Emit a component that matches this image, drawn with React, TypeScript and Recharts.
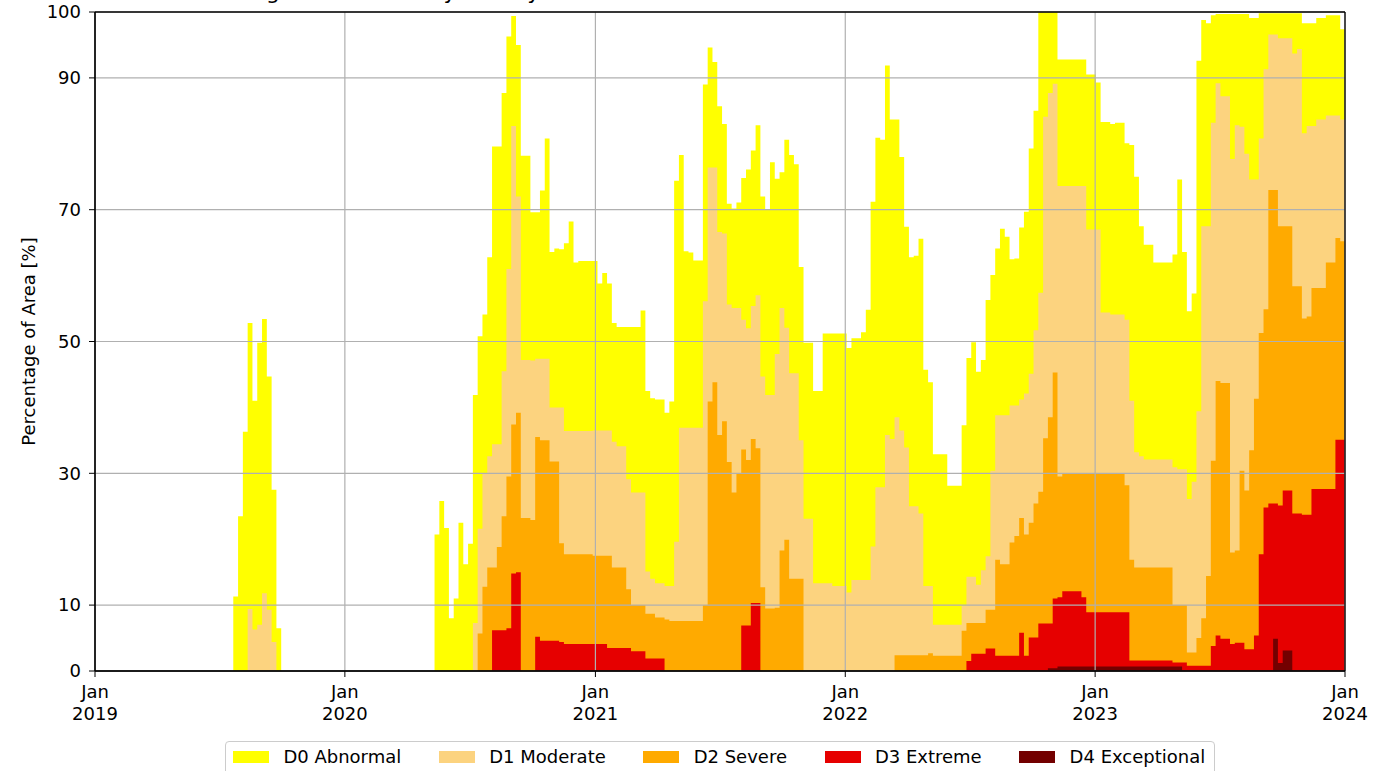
import React from "react"
import {
  Area,
  ComposedChart,
  Customized,
  ReferenceLine,
  XAxis,
  YAxis,
} from "recharts"

// weekly drought monitor values (% of area), first week = 2019-01-01
// every category is cumulative: D0 includes D1..D4, and so on
const d0 = [
  0, 0, 0, 0, 0, 0, 0, 0, 0, 0,
  0, 0, 0, 0, 0, 0, 0, 0, 0, 0,
  0, 0, 0, 0, 0, 0, 0, 0, 0, 11.3,
  23.5, 36.3, 52.8, 41, 49.8, 53.4, 44.7, 27.5, 6.5, 0,
  0, 0, 0, 0, 0, 0, 0, 0, 0, 0,
  0, 0, 0, 0, 0, 0, 0, 0, 0, 0,
  0, 0, 0, 0, 0, 0, 0, 0, 0, 0,
  0, 20.7, 25.8, 21.7, 8, 11, 22.5, 16.2, 19.3, 41.9,
  50.8, 54.1, 62.8, 79.6, 79.6, 87.7, 96.3, 99.4, 95, 78.2,
  78.2, 69.6, 69.6, 72.9, 80.8, 63.6, 64.1, 64, 64.9, 68.2,
  62, 62.2, 62.2, 62.2, 62.2, 58.8, 60.4, 58.8, 52.8, 52.2,
  52.2, 52.2, 52.2, 52.2, 54.7, 42.5, 41.4, 41.2, 41.2, 39.2,
  40.9, 74.4, 78.3, 63.7, 63.5, 62.3, 62.3, 89, 94.6, 92.4,
  85.7, 83, 70.9, 70.2, 71.1, 74.8, 76.1, 79, 82.8, 72,
  70.1, 77.2, 74.7, 75.7, 80.6, 78.3, 76.9, 61.3, 49.8, 49.8,
  42.5, 42.5, 51.2, 51.2, 51.2, 51.2, 51.2, 49, 50.5, 50.5,
  51.4, 54.8, 71.2, 80.9, 80.6, 91.9, 83.7, 83.7, 78, 67.4,
  62.8, 63, 65.6, 45.7, 43.8, 32.9, 32.9, 32.9, 28.1, 28.1,
  28.1, 37.3, 47.5, 49.9, 45.4, 47.2, 56.3, 60.1, 64.1, 67.1,
  65.9, 62.5, 62.6, 67.3, 69.7, 79.3, 85, 100, 100, 100,
  100, 92.8, 92.8, 92.8, 92.8, 92.8, 92.8, 90.5, 90.5, 89.3,
  83.3, 83.3, 83, 83.2, 83.2, 80.1, 79.8, 75, 67.5, 64.7,
  64.7, 62, 62, 62, 62, 63.2, 74.6, 63.6, 54.6, 57.3,
  92.6, 98.8, 98.3, 99.5, 99.7, 99.7, 99.7, 99.7, 99.7, 99.7,
  99.7, 99.1, 99.1, 99.8, 99.8, 99.8, 99.8, 99.8, 99.8, 99.8,
  99.8, 99.8, 98.3, 98.3, 98.3, 99.1, 99.1, 99.5, 99.5, 99.5,
  97.4,
]

const d1 = [
  0, 0, 0, 0, 0, 0, 0, 0, 0, 0,
  0, 0, 0, 0, 0, 0, 0, 0, 0, 0,
  0, 0, 0, 0, 0, 0, 0, 0, 0, 0,
  0, 0, 9.4, 6.3, 7, 11.8, 9.3, 4.4, 0, 0,
  0, 0, 0, 0, 0, 0, 0, 0, 0, 0,
  0, 0, 0, 0, 0, 0, 0, 0, 0, 0,
  0, 0, 0, 0, 0, 0, 0, 0, 0, 0,
  0, 0, 0, 0, 0, 0, 0, 0, 0, 7.3,
  21.6, 30, 32.6, 34.4, 34.4, 45.5, 61, 82.7, 72, 47.2,
  47.2, 47.1, 47.4, 47.4, 47.4, 40, 40, 40, 36.4, 36.4,
  36.4, 36.4, 36.4, 36.4, 36.5, 36.5, 36.5, 36.5, 34.8, 34.1,
  34.1, 29.1, 27.1, 27.1, 27.1, 15.1, 14, 13.3, 13.3, 12.9,
  12.9, 19.6, 36.9, 36.9, 36.9, 36.9, 36.9, 56.1, 76.4, 76.4,
  66.6, 66.4, 55.6, 55.1, 55.1, 53.3, 52, 55.4, 57, 44.7,
  41.9, 41.9, 48.1, 55.1, 52.1, 45.2, 45.2, 35, 23.1, 23.1,
  13.3, 13.3, 13.3, 13.3, 12.9, 12.9, 12.9, 11.9, 13.8, 13.8,
  13.8, 13.8, 18.9, 27.9, 27.9, 35.8, 35.2, 38.5, 36.5, 33.9,
  25, 25, 23.9, 12.9, 12.9, 7, 7, 7, 7, 7,
  7, 9.9, 14.3, 14.3, 13.1, 15.3, 17.4, 30.4, 38.8, 38.8,
  38.8, 40.3, 40.3, 41.2, 42.1, 45.1, 51.7, 57.4, 84.1, 87.7,
  89.1, 73.6, 73.6, 73.6, 73.6, 73.6, 73.6, 67, 67, 67,
  54.4, 54.4, 54.1, 54.1, 54.1, 53.3, 41, 33.2, 32.6, 32.1,
  32.1, 32.1, 32.1, 32.1, 32.1, 30.9, 30.6, 30.6, 26.1, 28.7,
  39.4, 67.5, 67.5, 83.2, 89.2, 87.2, 87.2, 77.7, 82.8, 82.6,
  78.5, 74.6, 74.6, 80.8, 91.3, 96.6, 96.6, 96, 96, 96,
  93.7, 94.4, 81.6, 82.7, 82.7, 83.7, 83.7, 84.3, 84.3, 84.3,
  83.7,
]

const d2 = [
  0, 0, 0, 0, 0, 0, 0, 0, 0, 0,
  0, 0, 0, 0, 0, 0, 0, 0, 0, 0,
  0, 0, 0, 0, 0, 0, 0, 0, 0, 0,
  0, 0, 0, 0, 0, 0, 0, 0, 0, 0,
  0, 0, 0, 0, 0, 0, 0, 0, 0, 0,
  0, 0, 0, 0, 0, 0, 0, 0, 0, 0,
  0, 0, 0, 0, 0, 0, 0, 0, 0, 0,
  0, 0, 0, 0, 0, 0, 0, 0, 0, 0,
  5.7, 12.8, 15.7, 15.7, 18.8, 23.5, 29.5, 37.4, 39.2, 23.2,
  23.2, 22.9, 35.5, 35, 35, 31.8, 31.8, 19.4, 17.7, 17.7,
  17.7, 17.7, 17.7, 17.7, 17.5, 17.5, 17.5, 17.5, 15.7, 15.7,
  15.7, 12.4, 10, 10, 10, 8.7, 8.7, 8.1, 8.1, 7.8,
  7.6, 7.6, 7.6, 7.6, 7.6, 7.6, 7.6, 10, 40.9, 43.8,
  35.8, 37.9, 31.7, 27.1, 29.9, 33.6, 32, 35.2, 33.8, 12.7,
  9.5, 9.5, 9.6, 18.3, 19.9, 14, 14, 14, 0, 0,
  0, 0, 0, 0, 0, 0, 0, 0, 0, 0,
  0, 0, 0, 0, 0, 0, 0, 2.4, 2.4, 2.4,
  2.4, 2.4, 2.4, 2.4, 2.7, 2.3, 2.3, 2.3, 2.3, 2.3,
  2.3, 6.1, 7.3, 7.3, 7.3, 7.3, 9.3, 9.3, 16.9, 16.2,
  16.2, 19.5, 20.5, 23.2, 20.7, 22.5, 25.4, 27.2, 35.3, 38.5,
  45.3, 29.5, 29.9, 29.9, 29.9, 29.9, 29.9, 29.9, 29.9, 29.9,
  29.9, 29.9, 29.9, 29.9, 29.9, 28.2, 16.9, 15.7, 15.7, 15.7,
  15.7, 15.7, 15.7, 15.7, 15.7, 10, 10, 10, 2.8, 2.8,
  5, 8, 14.4, 31.9, 44, 43.7, 43.7, 18, 18.3, 30.4,
  27.4, 33.5, 41.3, 51.3, 54.9, 73, 73, 67.5, 67.5, 67.5,
  58.4, 58.4, 53.5, 53.8, 58.1, 58.1, 58.1, 62, 62, 65.7,
  65.2,
]

const d3 = [
  0, 0, 0, 0, 0, 0, 0, 0, 0, 0,
  0, 0, 0, 0, 0, 0, 0, 0, 0, 0,
  0, 0, 0, 0, 0, 0, 0, 0, 0, 0,
  0, 0, 0, 0, 0, 0, 0, 0, 0, 0,
  0, 0, 0, 0, 0, 0, 0, 0, 0, 0,
  0, 0, 0, 0, 0, 0, 0, 0, 0, 0,
  0, 0, 0, 0, 0, 0, 0, 0, 0, 0,
  0, 0, 0, 0, 0, 0, 0, 0, 0, 0,
  0, 0, 0, 6.2, 6.2, 6.2, 6.5, 14.8, 15, 0,
  0, 0, 5.2, 4.6, 4.6, 4.6, 4.6, 4.4, 4.1, 4.1,
  4.1, 4.1, 4.1, 4.1, 4.1, 4.1, 4.1, 3.5, 3.5, 3.5,
  3.5, 3.5, 3, 3, 3, 1.9, 1.9, 1.9, 1.9, 0,
  0, 0, 0, 0, 0, 0, 0, 0, 0, 0,
  0, 0, 0, 0, 0, 6.9, 6.9, 10.3, 10.3, 0,
  0, 0, 0, 0, 0, 0, 0, 0, 0, 0,
  0, 0, 0, 0, 0, 0, 0, 0, 0, 0,
  0, 0, 0, 0, 0, 0, 0, 0, 0, 0,
  0, 0, 0, 0, 0, 0, 0, 0, 0, 0,
  0, 0, 1.5, 2.6, 2.6, 2.6, 3.4, 3.4, 2.3, 2.3,
  2.3, 2.3, 2.3, 5.8, 2.3, 5.1, 5.1, 7.2, 7.2, 7.2,
  11, 11.2, 12.1, 12.1, 12.1, 12.1, 11.2, 8.9, 8.9, 8.9,
  8.9, 8.9, 8.9, 8.9, 8.9, 8.9, 1.6, 1.6, 1.6, 1.6,
  1.6, 1.6, 1.6, 1.6, 1.6, 1.3, 1.3, 1.3, 0.8, 0.8,
  0.8, 0.8, 0.8, 3.8, 5.4, 4.9, 4.9, 4.1, 4.3, 4.3,
  3.3, 3.3, 5.4, 17.7, 24.8, 25.4, 25.4, 25.1, 27.4, 27.4,
  23.9, 23.9, 23.7, 23.7, 27.6, 27.6, 27.6, 27.6, 27.6, 35.1,
  35.1,
]

const d4 = [
  0, 0, 0, 0, 0, 0, 0, 0, 0, 0,
  0, 0, 0, 0, 0, 0, 0, 0, 0, 0,
  0, 0, 0, 0, 0, 0, 0, 0, 0, 0,
  0, 0, 0, 0, 0, 0, 0, 0, 0, 0,
  0, 0, 0, 0, 0, 0, 0, 0, 0, 0,
  0, 0, 0, 0, 0, 0, 0, 0, 0, 0,
  0, 0, 0, 0, 0, 0, 0, 0, 0, 0,
  0, 0, 0, 0, 0, 0, 0, 0, 0, 0,
  0, 0, 0, 0, 0, 0, 0, 0, 0, 0,
  0, 0, 0, 0, 0, 0, 0, 0, 0, 0,
  0, 0, 0, 0, 0, 0, 0, 0, 0, 0,
  0, 0, 0, 0, 0, 0, 0, 0, 0, 0,
  0, 0, 0, 0, 0, 0, 0, 0, 0, 0,
  0, 0, 0, 0, 0, 0, 0, 0, 0, 0,
  0, 0, 0, 0, 0, 0, 0, 0, 0, 0,
  0, 0, 0, 0, 0, 0, 0, 0, 0, 0,
  0, 0, 0, 0, 0, 0, 0, 0, 0, 0,
  0, 0, 0, 0, 0, 0, 0, 0, 0, 0,
  0, 0, 0, 0, 0, 0, 0, 0, 0, 0,
  0, 0, 0, 0, 0, 0, 0, 0, 0, 0.4,
  0.4, 0.7, 0.7, 0.7, 0.7, 0.7, 0.7, 0.7, 0.7, 0.7,
  0.7, 0.7, 0.7, 0.7, 0.7, 0.7, 0.7, 0.7, 0.7, 0.7,
  0.7, 0.7, 0.7, 0.7, 0.7, 0.7, 0.7, 0, 0, 0,
  0, 0, 0, 0, 0, 0, 0, 0, 0, 0,
  0, 0, 0, 0, 0, 0, 4.9, 1.2, 3.1, 3.1,
  0, 0, 0, 0, 0, 0, 0, 0, 0, 0,
  0,
]

// days since 2019-01-01
const yearTicks = [0, 365, 731, 1096, 1461, 1826]
const yearLabels = ["2019", "2020", "2021", "2022", "2023", "2024"]
const pctTicks = [0, 10, 30, 50, 70, 90, 100]

const series = [
  { key: "d0", name: "D0 Abnormal", color: "#FFFF00" },
  { key: "d1", name: "D1 Moderate", color: "#FCD37F" },
  { key: "d2", name: "D2 Severe", color: "#FFAA00" },
  { key: "d3", name: "D3 Extreme", color: "#E60000" },
  { key: "d4", name: "D4 Exceptional", color: "#730000" },
]

const data = d0.map((v, i) => ({
  day: i * 7 - 1,
  d0: v,
  d1: d1[i],
  d2: d2[i],
  d3: d3[i],
  d4: d4[i],
}))
// close the last weekly step at the right edge
data.push({ ...data[data.length - 1], day: 1826 })

const FONT = "DejaVu Sans, sans-serif"

const YearTick = (props: any) => {
  const { x, y, index } = props
  return (
    <text x={x} y={y} textAnchor="middle" fill="#000" fontSize={18}>
      <tspan x={x} dy={19}>Jan</tspan>
      <tspan x={x} dy={21.6}>{yearLabels[index]}</tspan>
    </text>
  )
}

const YLabel = (props: any) => {
  const vb = props.viewBox || { x: 0, y: 12, width: 95, height: 659 }
  const cx = vb.x + 28
  const cy = vb.y + vb.height / 2
  return (
    <text
      x={cx}
      y={cy}
      transform={`rotate(-90 ${cx} ${cy})`}
      textAnchor="middle"
      dominantBaseline="central"
      fill="#000"
      fontSize={18}
    >
      Percentage of Area [%]
    </text>
  )
}

// title sits above the figure edge, only its descenders show
const Title = () => (
  <text x={214} y={-1.5} fontSize={21.6} fill="#000">
    Drought Conditions by County
  </text>
)

const Legend = () => (
  <div
    style={{
      position: "absolute",
      left: 225,
      top: 741,
      border: "1px solid #cccccc",
      borderRadius: 4,
      padding: "6px 9px 10px 7px",
      display: "flex",
      alignItems: "center",
      background: "#fff",
      fontSize: 18,
      lineHeight: "18px",
      fontFamily: FONT,
      color: "#000",
      whiteSpace: "nowrap",
    }}
  >
    {series.map((s, i) => (
      <div
        key={s.key}
        style={{ display: "flex", alignItems: "center", marginLeft: i ? 37.5 : 0 }}
      >
        <span
          style={{
            display: "inline-block",
            width: 36,
            height: 12.6,
            background: s.color,
            marginRight: 14.4,
          }}
        />
        <span>{s.name}</span>
      </div>
    ))}
  </div>
)

export default function App() {
  return (
    <div
      style={{
        position: "fixed",
        left: 0,
        top: 0,
        width: 1389,
        height: 771,
        overflow: "hidden",
        background: "#fff",
        fontFamily: FONT,
      }}
    >
      <ComposedChart
        width={1389}
        height={771}
        data={data}
        margin={{ top: 12, right: 44, bottom: 0, left: 0 }}
      >
        <XAxis
          dataKey="day"
          type="number"
          domain={[0, 1826]}
          allowDataOverflow
          ticks={yearTicks}
          interval={0}
          tick={<YearTick />}
          tickSize={6}
          height={100}
          stroke="#000"
        />
        <YAxis
          type="number"
          domain={[0, 100]}
          ticks={pctTicks}
          interval={0}
          width={95}
          tickSize={6}
          tickMargin={8}
          stroke="#000"
          tick={{ fill: "#000", fontSize: 18 }}
          label={<YLabel />}
        />
        {series.map((s) => (
          <Area
            key={s.key}
            dataKey={s.key}
            name={s.name}
            type="stepAfter"
            fill={s.color}
            fillOpacity={1}
            stroke="none"
            dot={false}
            activeDot={false}
            isAnimationActive={false}
          />
        ))}
        {yearTicks.map((t) => (
          <ReferenceLine key={"gx" + t} x={t} stroke="#b0b0b0" strokeWidth={1.2} />
        ))}
        {pctTicks.map((t) => (
          <ReferenceLine key={"gy" + t} y={t} stroke="#b0b0b0" strokeWidth={1.2} />
        ))}
        <ReferenceLine x={0} stroke="#000" strokeWidth={1.3} />
        <ReferenceLine x={1826} stroke="#000" strokeWidth={1.3} />
        <ReferenceLine y={0} stroke="#000" strokeWidth={1.3} />
        <ReferenceLine y={100} stroke="#000" strokeWidth={1.3} />
        <Customized component={Title} />
      </ComposedChart>
      <Legend />
    </div>
  )
}
